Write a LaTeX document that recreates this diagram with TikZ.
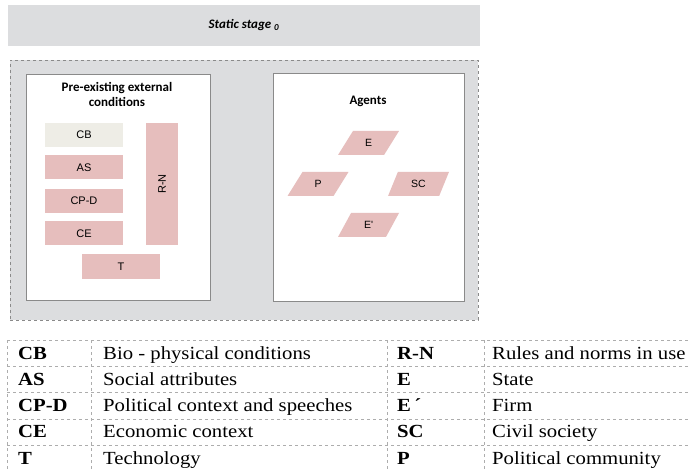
\documentclass[tikz,border=0pt]{standalone}
\usepackage{fontspec}
\setmainfont{Liberation Serif}
\newfontfamily\calibri{Carlito}
\newfontfamily\arial{Liberation Sans}
\usetikzlibrary{shapes.geometric}
\definecolor{stagegray}{HTML}{DCDDDF}
\definecolor{boxpink}{HTML}{E6BEBD}
\definecolor{boxbeige}{HTML}{EEEDE6}
\definecolor{linegray}{HTML}{8A8A8A}
\newcommand{\widetext}[1]{\scalebox{1.12}[1]{#1}}

\begin{document}
\begin{tikzpicture}[x=1pt,y=-1pt,
        factor/.style={fill=boxpink,minimum width=78,minimum height=24,inner sep=0pt,font=\arial\fontsize{11}{12}\selectfont},
        agent/.style={trapezium,trapezium left angle=65,trapezium right angle=115,trapezium stretches=true,
            fill=boxpink,minimum width=61,minimum height=24,inner sep=0pt,font=\arial\fontsize{10.5}{12}\selectfont},
        panel/.style={draw=linegray,fill=white,inner sep=0pt},
        heading/.style={align=center,font=\calibri\bfseries\fontsize{13}{15}\selectfont},
        cell/.style={anchor=base west,inner sep=0pt,font=\fontsize{18.5}{20}\selectfont},
        rule/.style={draw=linegray!70,dashed,thin}]
    \useasboundingbox (0,0) rectangle (690,470);
    % top bar and frame
    \node[fill=stagegray,minimum width=472,minimum height=41,inner sep=0pt,font=\calibri\bfseries\itshape\fontsize{13}{15}\selectfont]
        (stage) at (244,25.5) {Static stage \textsubscript{0}};
    \node[draw=linegray,dashed,fill=stagegray,minimum width=468,minimum height=260,inner sep=0pt] (frame) at (244,190) {};
    \node[panel,minimum width=184,minimum height=226] (conditions) at (118,187) {};
    \node[panel,minimum width=191,minimum height=228] (agents) at (368.5,187) {};
    \node[heading] (condtitle) at (117,94.5) {Pre-existing external\\conditions};
    \node[heading] (agtitle) at (368,101) {Agents};
    % conditions
    \node[factor,fill=boxbeige] (CB) at (84,135) {CB};
    \node[factor] (AS) at (84,167.5) {AS};
    \node[factor] (CPD) at (84,201) {CP-D};
    \node[factor] (CE) at (84,233.5) {CE};
    \node[factor,minimum width=122,minimum height=32,rotate=90] (RN) at (162,184) {R-N};
    \node[factor,minimum height=25] (T) at (121,266.5) {T};
    % agents
    \node[agent] (E) at (368.5,143) {E};
    \node[agent] (P) at (318,184) {P};
    \node[agent] (SC) at (418.5,184) {SC};
    \node[agent] (Ep) at (368.5,225) {E'};
    % legend table
    \foreach \y in {340,366,392,419,445}
        \draw[rule] (7,\y) -- (690,\y);
    \foreach \x in {7,91,387,484}
        \draw[rule] (\x,340) -- (\x,470);
    \foreach \a/\d [count=\i] in {CB/Bio - physical conditions,AS/Social attributes,CP-D/Political context and speeches,CE/Economic context,T/Technology}
        \node[cell] (la\i) at (18,340+26.25*\i-7.25) {\widetext{\textbf{\a}}} node[cell] (ld\i) at (103,340+26.25*\i-7.25) {\widetext{\d}};
    \foreach \a/\d [count=\i] in {R-N/Rules and norms in use,E/State,E\,´/Firm,SC/Civil society,P/Political community}
        \node[cell] (ra\i) at (397,340+26.25*\i-7.25) {\widetext{\textbf{\a}}} node[cell] (rd\i) at (492,340+26.25*\i-7.25) {\widetext{\d}};
\end{tikzpicture}
\end{document}
